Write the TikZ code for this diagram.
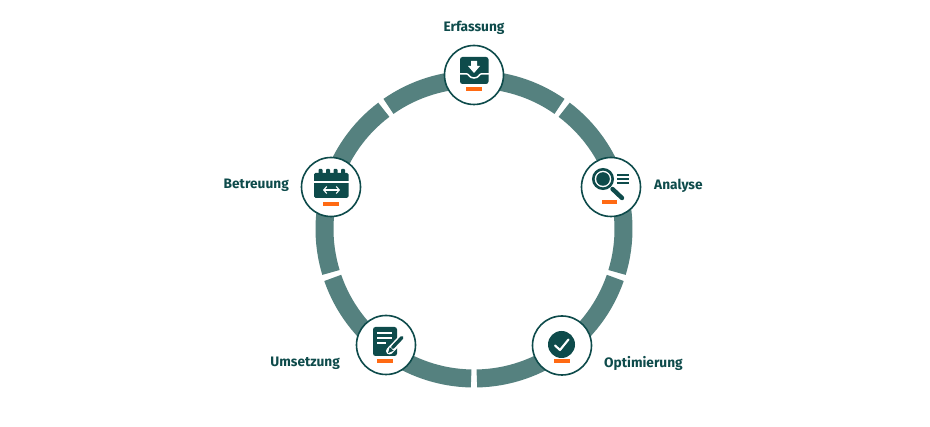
\documentclass[tikz,border=0pt]{standalone}
\usepackage{fontspec}
\setmainfont{Fira Sans}
\usetikzlibrary{arrows.meta}
\definecolor{ringc}{HTML}{55817F}
\definecolor{darkc}{HTML}{0E4B4B}
\definecolor{orangec}{HTML}{FF6A13}
\tikzset{
  x=1pt,y=-1pt,
  stage/.style={circle,draw=darkc,line width=1.6pt,fill=white,minimum size=59pt,inner sep=0pt},
  lab/.style={text=darkc,font=\fontsize{13.7}{15}\selectfont\bfseries,inner sep=0pt},
  seg/.style={draw=ringc,line width=18pt},
  bar/.style={fill=orangec},
  ink/.style={fill=darkc},
  wline/.style={draw=white,line width=1.4pt}
}
\begin{document}
\begin{tikzpicture}
\useasboundingbox (0,0) rectangle (930,427);
\fill[white] (0,0) rectangle (930,427);
% ring segments (y axis is flipped, so angles run clockwise on the page)
\coordinate (c) at (474,229);
\foreach \a in {-54,18,90,162,234}{
  \draw[seg] ([shift={(\a+1.1-72:149.5)}]c) arc[start angle=\a+1.1-72,end angle=\a-1.1,radius=149.5];
}
\node[stage] (erf) at (474,75) {};
\node[stage] (ana) at (611,187) {};
\node[stage] (opt) at (562,345.5) {};
\node[stage] (ums) at (386,345) {};
\node[stage] (bet) at (331,187) {};
% labels
\node[lab] (lerf) at (474,27.5) {Erfassung};
\node[lab,anchor=west] (lana) at (654,185.5) {Analyse};
\node[lab,anchor=west] (lopt) at (604,363) {Optimierung};
\node[lab,anchor=east] (lums) at (340,363) {Umsetzung};
\node[lab,anchor=east] (lbet) at (289,185.5) {Betreuung};
% orange bars
\fill[bar] (466,87.5) rectangle (482,91.5);
\fill[bar] (602,200.5) rectangle (617,204.5);
\fill[bar] (553.5,359.5) rectangle (569.5,363.5);
\fill[bar] (377,359.5) rectangle (393,363.5);
\fill[bar] (323,202.5) rectangle (339,206.5);
% Erfassung icon
\fill[ink,rounded corners=2.5pt] (460,57) rectangle (488.5,84);
\fill[white] (471,61) -- (477,61) -- (477,66) -- (480,66) -- (474,73) -- (468,66) -- (471,66) -- cycle;
\draw[white,line width=1.5pt] (459,74) -- (467,74) .. controls (469,74) and (469,78) .. (474,78) .. controls (479,78) and (479,74) .. (481,74) -- (489,74);
% Analyse icon
\draw[darkc,line width=2.6pt] (603,179) circle[radius=9.7];
\fill[ink] (603,179) circle[radius=6.8];
\draw[darkc,line width=4.4pt,line cap=round] (612.5,189) -- (622,198);
\draw[darkc,line width=1.8pt] (617,175) -- (629,175) (617,179) -- (629,179) (617,183) -- (629,183);
% Optimierung icon
\fill[ink] (561.5,344.5) circle[radius=13.5];
\draw[white,line width=2.1pt,line cap=round,line join=round] (555,345.5) -- (560,350) -- (568.5,339.5);
% Umsetzung icon
\fill[ink,rounded corners=2.5pt] (373,327) rectangle (397,356);
\draw[white,line width=1.4pt] (377,333) -- (392,333) (377,338) -- (392,338) (377,343) -- (386,343);
\draw[white,line width=7pt,line cap=round] (389.5,351) -- (401,339);
\draw[darkc,line width=3.4pt,line cap=round] (392.5,347.5) -- (402,337.5);
\fill[ink] (388,353) -- (389.8,347.2) -- (393.6,350.8) -- cycle;
% Betreuung icon
\fill[ink,rounded corners=1.5pt] (314,173) rectangle (348.5,198);
\foreach \x in {320.5,328,335.5,343}{\fill[ink,rounded corners=1pt] (\x-2,169) rectangle (\x+2,176);}
\fill[white] (314,181.3) rectangle (348.5,182.9);
\draw[white,line width=1.1pt,{Straight Barb[length=3pt,width=7pt]}-{Straight Barb[length=3pt,width=7pt]}] (323,190) -- (340,190);
\end{tikzpicture}
\end{document}
